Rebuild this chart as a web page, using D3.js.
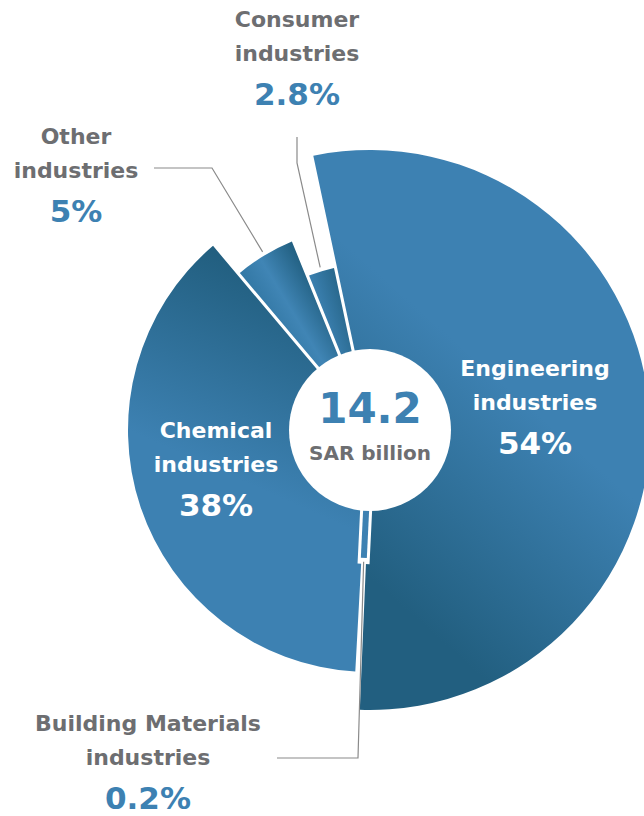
<!DOCTYPE html>
<html>
<head>
<meta charset="utf-8">
<script src="https://cdn.jsdelivr.net/npm/d3@7"></script>
<style>
  body { margin: 0; background: #fff; }
  svg { display: block; }
  text { font-family: "DejaVu Sans", sans-serif; font-weight: 700; }
</style>
</head>
<body>
<script>
// data
var categories = ["Engineering industries", "Building Materials industries", "Chemical industries", "Other industries", "Consumer industries"];
var shares = [54, 0.2, 38, 5, 2.8];
var shareLabels = ["54%", "0.2%", "38%", "5%", "2.8%"];
var totalValue = "14.2";
var totalUnit = "SAR billion";

// layout
var w = 644, h = 816;
var cx = 370, cy = 430;
var holeR = 81;
var outerR = [280, 128, 242, 204, 166];
var inside = [true, false, true, false, false];
var labelX = [535, 148, 216, 76, 297];
var labelY = [376, 731, 438, 144, 27];
var elbows = [null, [[277, 758], [358, 758]], null, [[154, 168], [212, 168]], [[297, 137], [297, 163]]];

var blue = "#3d81b2", dark = "#225f80", grey = "#6d6e71";

var svg = d3.select("body").append("svg")
    .attr("width", w)
    .attr("height", h);

// gradients, coords relative to the pie centre
var defs = svg.append("defs");
function linGrad(id, x1, y1, x2, y2, stops) {
  var g = defs.append("linearGradient").attr("id", id)
      .attr("gradientUnits", "userSpaceOnUse")
      .attr("x1", x1).attr("y1", y1).attr("x2", x2).attr("y2", y2);
  stops.forEach(function(s) {
    g.append("stop").attr("offset", s[0]).attr("stop-color", s[1]);
  });
  return "url(#" + id + ")";
}
var fills = [
  linGrad("g0", 70, 210, 225, 35, [[0, dark], [1, blue]]),
  blue,
  linGrad("g2", -95, -150, -175, 30, [[0, dark], [1, blue]]),
  linGrad("g3", -100, -112, -52, -141, [[0, "#3479a6"], [0.4, "#4085b5"], [1, "#236183"]]),
  linGrad("g4", -50, -120, -25, -128, [[0, "#3b80b0"], [1, "#28678b"]])
];

var pie = d3.pie()
    .sort(null)
    .startAngle(-12 * Math.PI / 180)
    .endAngle(348 * Math.PI / 180)
    .value(function(d) { return d; });

var arcs = pie(shares);

var arc = d3.arc()
    .innerRadius(60)
    .outerRadius(function(d) { return outerR[d.index]; })
    .padAngle(0.022)
    .padRadius(140);

var isThin = function(d) { return d.endAngle - d.startAngle < 0.03; };

var pieG = svg.append("g").attr("transform", "translate(" + cx + "," + cy + ")");

pieG.selectAll("path.slice")
  .data(arcs.filter(function(d) { return !isThin(d); }))
  .enter()
  .append("path")
    .attr("class", "slice")
    .attr("d", arc)
    .attr("fill", function(d) { return fills[d.index]; });

// tiny slices: a radial bar at the slice's mid angle, with a white halo
function radial(d, r) {
  var a = (d.startAngle + d.endAngle) / 2;
  return [r * Math.sin(a), -r * Math.cos(a)];
}
var thin = arcs.filter(isThin);
[[12, "#fff"], [6, null]].forEach(function(s) {
  pieG.selectAll(null)
    .data(thin)
    .enter()
    .append("path")
      .attr("d", function(d) { return d3.line()([radial(d, 60), radial(d, outerR[d.index])]); })
      .attr("stroke", function(d) { return s[1] || fills[d.index]; })
      .attr("stroke-width", s[0])
      .attr("stroke-linecap", s[1] ? "square" : "butt");
});

// hole
pieG.append("circle")
    .attr("r", holeR)
    .attr("fill", "#fff");

svg.append("text")
    .attr("x", cx).attr("y", 423)
    .attr("text-anchor", "middle")
    .attr("font-family", "Lato, sans-serif")
    .attr("font-weight", 900)
    .attr("font-size", 42)
    .attr("fill", blue)
    .text(totalValue);
svg.append("text")
    .attr("x", cx).attr("y", 460)
    .attr("text-anchor", "middle")
    .attr("font-size", 20)
    .attr("fill", grey)
    .text(totalUnit);

// leader lines
arcs.forEach(function(d) {
  var e = elbows[d.index];
  if (!e) return;
  var a = (d.startAngle + d.endAngle) / 2;
  var r = outerR[d.index] + 4;
  var pts = e.concat([[cx + r * Math.sin(a), cy - r * Math.cos(a)]]);
  svg.append("path")
      .attr("d", d3.line()(pts))
      .attr("fill", "none")
      .attr("stroke", "#8a8a8a")
      .attr("stroke-width", 1.2);
});

// labels
arcs.forEach(function(d) {
  var i = d.index;
  var name = categories[i];
  var cut = name.lastIndexOf(" ");
  var lines = [name.slice(0, cut), name.slice(cut + 1)];
  var t = svg.append("text")
      .attr("text-anchor", "middle")
      .attr("fill", inside[i] ? "#fff" : grey)
      .attr("font-size", 22);
  lines.forEach(function(l, k) {
    t.append("tspan").attr("x", labelX[i]).attr("y", labelY[i] + k * 33.5).text(l);
  });
  svg.append("text")
      .attr("x", labelX[i])
      .attr("y", labelY[i] + 78)
      .attr("text-anchor", "middle")
      .attr("fill", inside[i] ? "#fff" : blue)
      .attr("font-size", 31)
      .text(shareLabels[i]);
});
</script>
</body>
</html>
